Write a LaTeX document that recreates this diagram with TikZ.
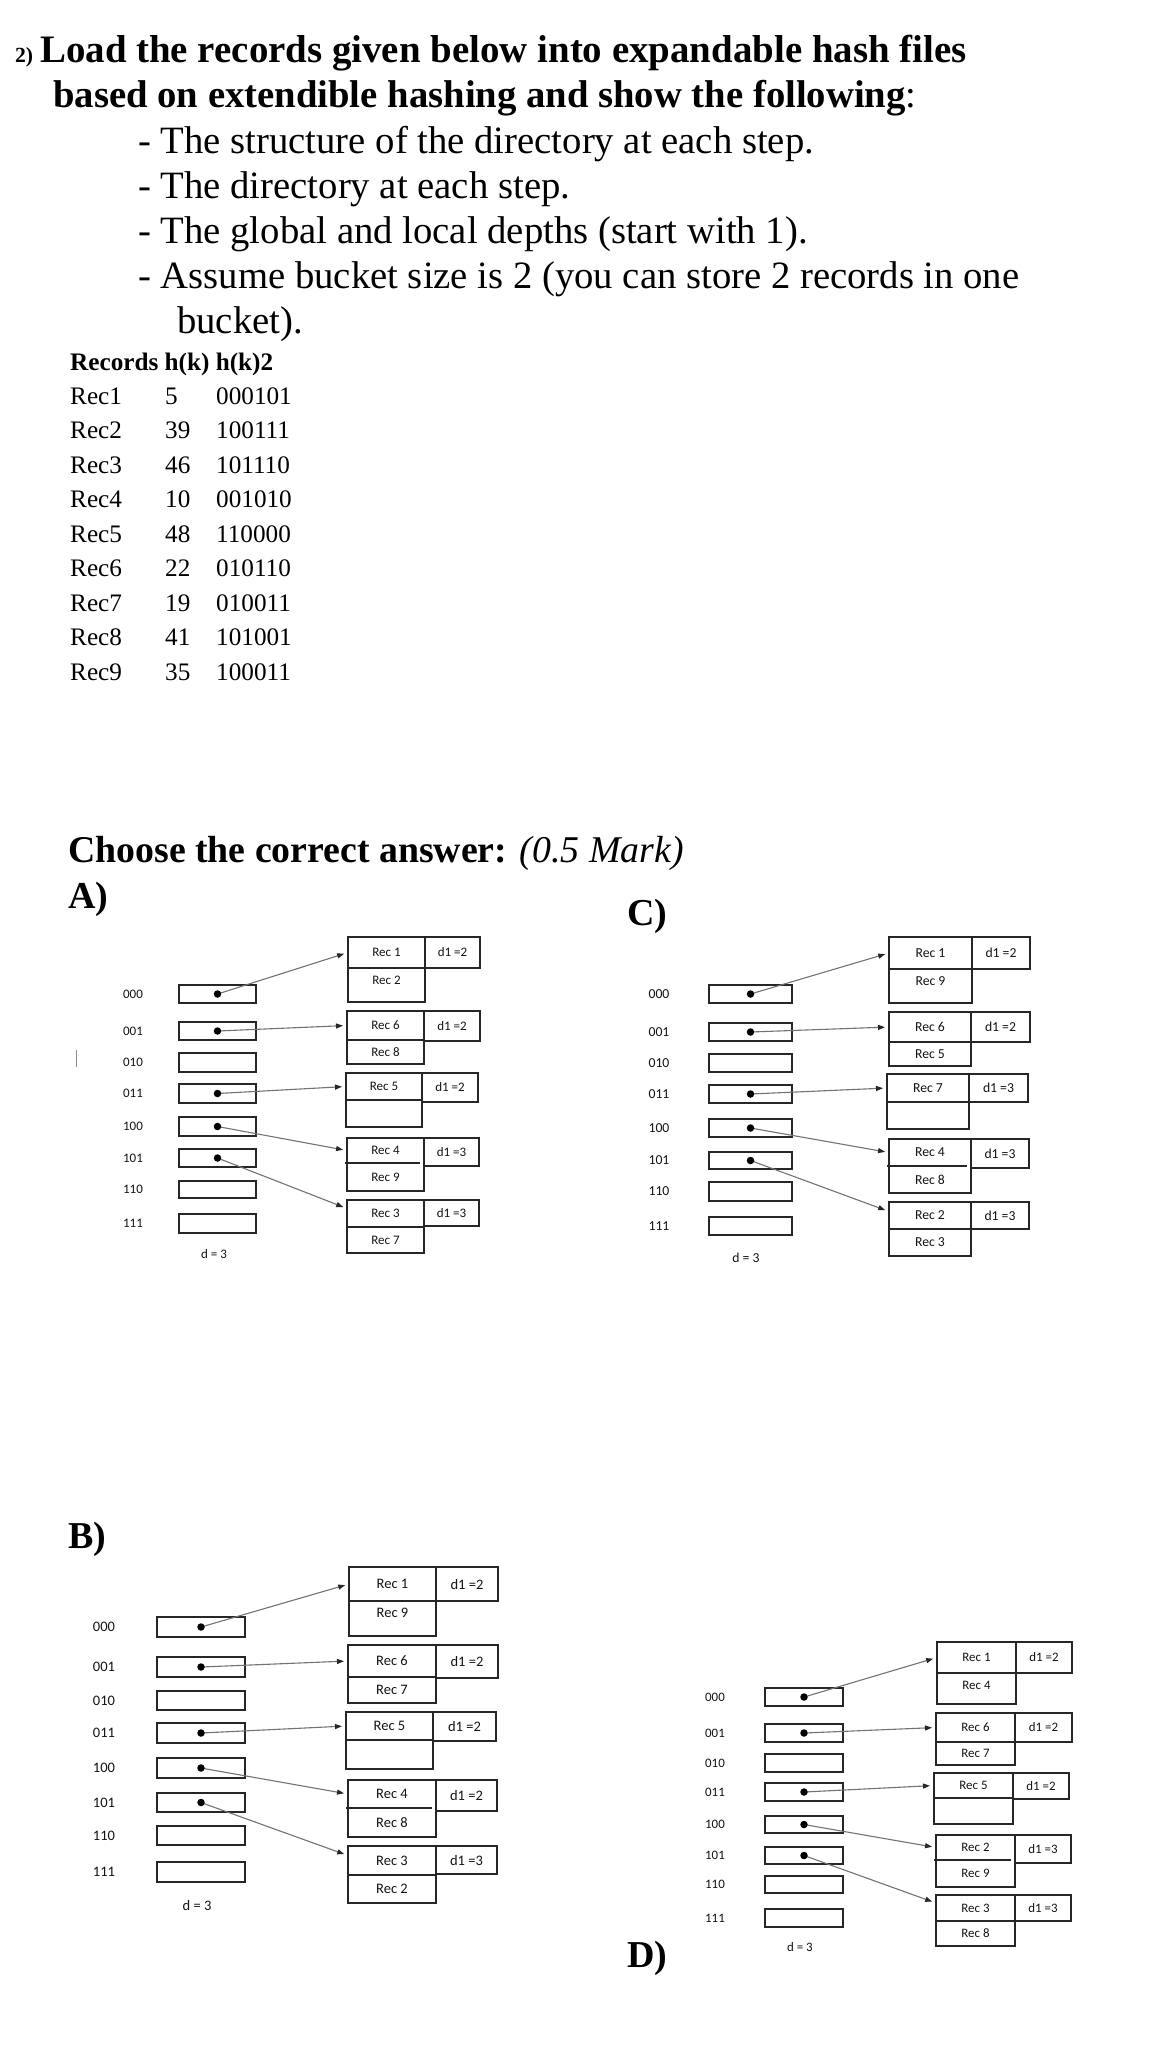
\documentclass[tikz,border=0pt]{standalone}
\usepackage{fontspec}
\setmainfont{Liberation Serif}
\newfontfamily\calfont{Carlito}
\usetikzlibrary{arrows.meta}

\tikzset{
  frame/.style={draw=black!85, line width=1.3pt, rectangle, inner sep=0pt, outer sep=0pt},
  ghost/.style={rectangle, inner sep=0pt, outer sep=0pt},
  lbl/.style={inner sep=0pt, text=black!92, font=\calfont\fontsize{\dfs}{\dfs}\selectfont},
  ptr/.style={circle, fill=black, inner sep=0pt, minimum size=7.5pt},
  arr/.style={draw=black!55, line width=1.1pt, -{Triangle[length=7pt,width=5pt,color=black!85]}, shorten >=4pt},
  htxt/.style={anchor=base west, inner sep=0pt, font=\fontsize{38.7}{40}\selectfont},
  ttxt/.style={anchor=base west, inner sep=0pt, font=\fontsize{25.2}{27}\selectfont},
}

% directory row: name, label, label x, box x1, box x2, box top, box bottom
\newcommand\dirrow[7]{%
  \node[frame, anchor=north west, minimum width={#5-#4}, minimum height={#7-#6}] (#1) at (#4,#6) {};
  \node[lbl] (#1l) at (#3,{(#6+#7)/2}) {#2};}

% bucket: name, x1, xmid, x2, ytop, ydiv, ybot, d1 bottom
\newcommand\bucket[8]{%
  \node[frame, anchor=north west, minimum width={#3-#2}, minimum height={#6-#5}] (#1) at (#2,#5) {};
  \node[frame, anchor=north west, minimum width={#3-#2}, minimum height={#7-#6}] (#1b) at (#2,#6) {};
  \node[frame, anchor=north west, minimum width={#4-#3}, minimum height={#8-#5}] (#1d) at (#3,#5) {};
  \pgfmathsetmacro\rtwo{#6+((#7-#6)>30 ? 12 : (#7-#6)/2)}%
  \coordinate (#1c) at ({(#2+#3)/2},\rtwo);}

% bucket whose divider line is drawn slightly off
\newcommand\bucketalt[8]{%
  \node[frame, anchor=north west, minimum width={#3-#2}, minimum height={#7-#5}] (#1o) at (#2,#5) {};
  \node[ghost, anchor=north west, minimum width={#3-#2}, minimum height={#6-#5}] (#1) at (#2,#5) {};
  \node[ghost, anchor=north west, minimum width={#3-#2}, minimum height={#7-#6}] (#1b) at (#2,#6) {};
  \draw[draw=black!85, line width=1.3pt] ({#2-2},#6) -- ({#3-4},#6);
  \node[frame, anchor=north west, minimum width={#4-#3}, minimum height={#8-#5}] (#1d) at (#3,#5) {};
  \pgfmathsetmacro\rtwo{#6+((#7-#6)>30 ? 12 : (#7-#6)/2)}%
  \coordinate (#1c) at ({(#2+#3)/2},\rtwo);}

\newcommand\btext[4]{%
  \node[lbl] (#1t) at (#1.center) {#2};
  \node[lbl] (#1u) at (#1c) {#3};
  \node[lbl] (#1v) at (#1d.center) {#4};}

\begin{document}
\begin{tikzpicture}[x=1pt, y=-1pt]
\fill[white] (0,0) rectangle (1173,2062);
\useasboundingbox (0,0) rectangle (1173,2062);

% ---------- header ----------
\node[htxt, font=\bfseries\fontsize{21.6}{22}\selectfont] (qn) at (15,62) {2)};
\node[htxt, font=\bfseries\fontsize{38.9}{40}\selectfont] (l1) at (40,62) {Load the records given below into expandable hash files};
\node[htxt] (l2) at (53,107) {\textbf{based on extendible hashing and show the following}:};
\node[htxt] (l3) at (138,153) {- The structure of the directory at each step.};
\node[htxt] (l4) at (138,198) {- The directory at each step.};
\node[htxt] (l5) at (138,243) {- The global and local depths (start with 1).};
\node[htxt] (l6) at (138,288) {- Assume bucket size is 2 (you can store 2 records in one};
\node[htxt] (l7) at (177,333) {bucket).};

% ---------- table ----------
\node[ttxt, font=\bfseries\fontsize{25.2}{27}\selectfont] (th) at (70,370) {Records h(k) h(k)2};
\foreach \r/\n/\b [count=\i from 0] in {1/5/000101, 2/39/100111, 3/46/101110, 4/10/001010, 5/48/110000, 6/22/010110, 7/19/010011, 8/41/101001, 9/35/100011}{
  \node[ttxt] (rec\r) at (70,{404+34.5*\i}) {Rec\r};
  \node[ttxt] (hk\r) at (165,{404+34.5*\i}) {\n};
  \node[ttxt] (bin\r) at (216,{404+34.5*\i}) {\b};
}

% ---------- question ----------
\node[htxt, font=\fontsize{37.8}{40}\selectfont] (ch) at (68,862) {\textbf{Choose the correct answer:} \textit{(0.5 Mark)}};
\node[htxt, font=\bfseries\fontsize{38}{40}\selectfont] (optA) at (68,908) {A)};
\node[htxt, font=\bfseries\fontsize{38}{40}\selectfont] (optC) at (627,925) {C)};
\node[htxt, font=\bfseries\fontsize{38}{40}\selectfont] (optB) at (68,1548) {B)};
\node[htxt, font=\bfseries\fontsize{38}{40}\selectfont] (optD) at (627,1967) {D)};
\draw[black!45, line width=1pt] (76,1050) -- (76,1067);

% ---------- diagram A ----------
\def\dfs{13}
\dirrow{A0}{000}{133}{179}{256}{985}{1003}
\dirrow{A1}{001}{133}{179}{256}{1022}{1040}
\dirrow{A2}{010}{133}{179}{256}{1053}{1072}
\dirrow{A3}{011}{133}{179}{256}{1084}{1103}
\dirrow{A4}{100}{133}{179}{256}{1117}{1136}
\dirrow{A5}{101}{133}{179}{256}{1149}{1167}
\dirrow{A6}{110}{133}{179}{256}{1181}{1198}
\dirrow{A7}{111}{133}{179}{256}{1214}{1233}
\node[lbl] (Ad) at (214,1254) {d = 3};
\bucket{Ab1}{348}{425}{480}{937}{968}{1002}{968}
\btext{Ab1}{Rec 1}{Rec 2}{d1 =2}
\bucket{Ab2}{347}{424}{480}{1011}{1040}{1064}{1041}
\btext{Ab2}{Rec 6}{Rec 8}{d1 =2}
\bucket{Ab3}{346}{422}{478}{1073}{1100}{1127}{1102}
\btext{Ab3}{Rec 5}{}{d1 =2}
\bucketalt{Ab4}{347}{424}{479}{1138}{1163}{1191}{1166}
\btext{Ab4}{Rec 4}{Rec 9}{d1 =3}
\bucket{Ab5}{347}{424}{479}{1200}{1227}{1253}{1226}
\btext{Ab5}{Rec 3}{Rec 7}{d1 =3}
\draw[arr] (A0.center) -- (Ab1.west);
\draw[arr] (A1.center) -- (Ab2.west);
\draw[arr] (A3.center) -- (Ab3.west);
\draw[arr] (A4.center) -- (Ab4.west);
\draw[arr] (A5.center) -- ([yshift=5pt]Ab5.west);
\foreach \k in {0,1,3,4,5} { \node[ptr] (Ap\k) at (A\k.center) {}; }

% ---------- diagram C ----------
\def\dfs{13.7}
\dirrow{C0}{000}{659}{709}{792}{985}{1003}
\dirrow{C1}{001}{659}{709}{792}{1023}{1041}
\dirrow{C2}{010}{659}{709}{792}{1054}{1072}
\dirrow{C3}{011}{659}{709}{792}{1085}{1103}
\dirrow{C4}{100}{659}{709}{792}{1119}{1137}
\dirrow{C5}{101}{659}{709}{792}{1152}{1169}
\dirrow{C6}{110}{659}{709}{792}{1182}{1201}
\dirrow{C7}{111}{659}{709}{792}{1217}{1235}
\node[lbl] (Cd) at (746,1258) {d = 3};
\bucket{Cb1}{889}{972}{1030}{937}{969}{1003}{969}
\btext{Cb1}{Rec 1}{Rec 9}{d1 =2}
\bucket{Cb2}{889}{971}{1030}{1012}{1042}{1066}{1042}
\btext{Cb2}{Rec 6}{Rec 5}{d1 =2}
\bucket{Cb3}{887}{969}{1028}{1074}{1102}{1129}{1102}
\btext{Cb3}{Rec 7}{}{d1 =3}
\bucketalt{Cb4}{889}{971}{1029}{1139}{1166}{1193}{1168}
\btext{Cb4}{Rec 4}{Rec 8}{d1 =3}
\bucket{Cb5}{889}{971}{1029}{1202}{1229}{1256}{1229}
\btext{Cb5}{Rec 2}{Rec 3}{d1 =3}
\draw[arr] (C0.center) -- (Cb1.west);
\draw[arr] (C1.center) -- (Cb2.west);
\draw[arr] (C3.center) -- (Cb3.west);
\draw[arr] (C4.center) -- (Cb4.west);
\draw[arr] (C5.center) -- ([yshift=4pt]Cb5.west);
\foreach \k in {0,1,3,4,5} { \node[ptr] (Cp\k) at (C\k.center) {}; }

% ---------- diagram B ----------
\def\dfs{14.5}
\dirrow{B0}{000}{104}{157}{245}{1617}{1637}
\dirrow{B1}{001}{104}{157}{245}{1657}{1677}
\dirrow{B2}{010}{104}{157}{245}{1691}{1710}
\dirrow{B3}{011}{104}{157}{245}{1723}{1743}
\dirrow{B4}{100}{104}{157}{245}{1758}{1778}
\dirrow{B5}{101}{104}{157}{245}{1793}{1812}
\dirrow{B6}{110}{104}{157}{245}{1826}{1845}
\dirrow{B7}{111}{104}{157}{245}{1862}{1882}
\node[lbl] (Bd) at (197,1905) {d = 3};
\bucket{Bb1}{349}{436}{498}{1567}{1601}{1636}{1601}
\btext{Bb1}{Rec 1}{Rec 9}{d1 =2}
\bucket{Bb2}{348}{436}{498}{1645}{1677}{1703}{1678}
\btext{Bb2}{Rec 6}{Rec 7}{d1 =2}
\bucket{Bb3}{346}{433}{496}{1712}{1740}{1769}{1741}
\btext{Bb3}{Rec 5}{}{d1 =2}
\bucketalt{Bb4}{348}{436}{497}{1780}{1808}{1837}{1811}
\btext{Bb4}{Rec 4}{Rec 8}{d1 =2}
\bucket{Bb5}{348}{436}{497}{1846}{1875}{1903}{1874}
\btext{Bb5}{Rec 3}{Rec 2}{d1 =3}
\draw[arr] (B0.center) -- (Bb1.west);
\draw[arr] (B1.center) -- (Bb2.west);
\draw[arr] (B3.center) -- (Bb3.west);
\draw[arr] (B4.center) -- (Bb4.west);
\draw[arr] (B5.center) -- ([yshift=5pt]Bb5.west);
\foreach \k in {0,1,3,4,5} { \node[ptr] (Bp\k) at (B\k.center) {}; }

% ---------- diagram D ----------
\def\dfs{12.9}
\dirrow{D0}{000}{715}{765}{843}{1688}{1706}
\dirrow{D1}{001}{715}{765}{843}{1724}{1742}
\dirrow{D2}{010}{715}{765}{843}{1754}{1772}
\dirrow{D3}{011}{715}{765}{843}{1783}{1801}
\dirrow{D4}{100}{715}{765}{843}{1816}{1833}
\dirrow{D5}{101}{715}{765}{843}{1847}{1864}
\dirrow{D6}{110}{715}{765}{843}{1876}{1893}
\dirrow{D7}{111}{715}{765}{843}{1909}{1927}
\node[lbl] (Dd) at (800,1947) {d = 3};
\bucket{Db1}{937}{1016}{1072}{1642}{1673}{1704}{1673}
\btext{Db1}{Rec 1}{Rec 4}{d1 =2}
\bucket{Db2}{936}{1015}{1072}{1713}{1742}{1765}{1742}
\btext{Db2}{Rec 6}{Rec 7}{d1 =2}
\bucket{Db3}{934}{1013}{1069}{1773}{1798}{1824}{1799}
\btext{Db3}{Rec 5}{}{d1 =2}
\bucketalt{Db4}{936}{1015}{1071}{1835}{1860}{1887}{1863}
\btext{Db4}{Rec 2}{Rec 9}{d1 =3}
\bucket{Db5}{936}{1015}{1071}{1895}{1921}{1946}{1921}
\btext{Db5}{Rec 3}{Rec 8}{d1 =3}
\draw[arr] (D0.center) -- (Db1.west);
\draw[arr] (D1.center) -- (Db2.west);
\draw[arr] (D3.center) -- (Db3.west);
\draw[arr] (D4.center) -- (Db4.west);
\draw[arr] (D5.center) -- ([yshift=5pt]Db5.west);
\foreach \k in {0,1,3,4,5} { \node[ptr] (Dp\k) at (D\k.center) {}; }
\end{tikzpicture}
\end{document}
